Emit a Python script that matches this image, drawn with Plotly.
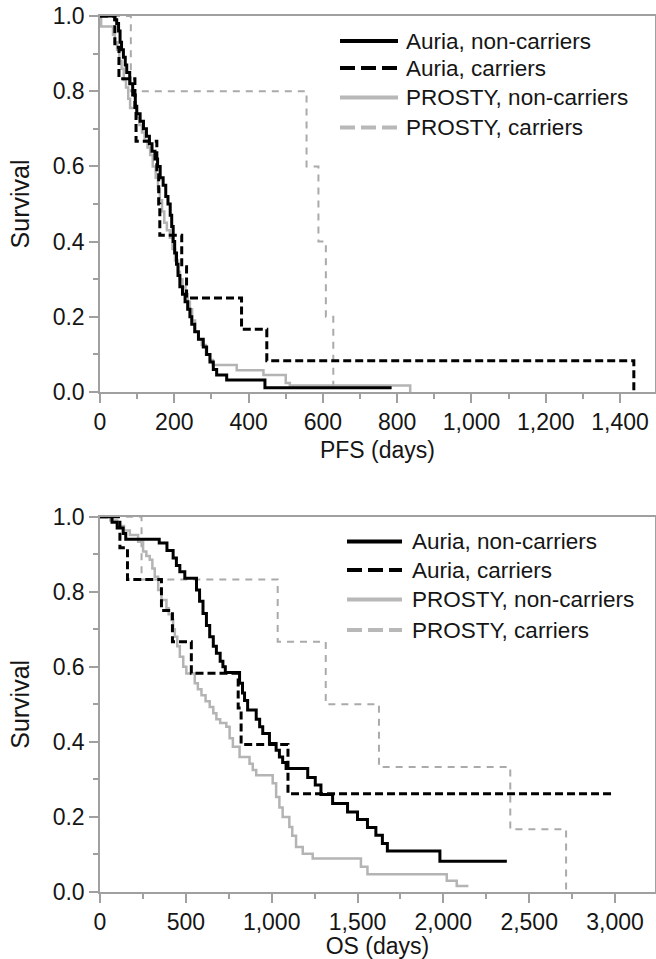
import plotly.graph_objects as go

# ---------------- data: PFS (top panel) ----------------
pfs_auria_nc_t = [0, 40, 45, 50, 54, 58, 63, 68, 72, 80, 88, 95, 99, 108, 117, 125, 133, 140, 148, 155,
                  162, 170, 177, 183, 189, 193, 197, 201, 206, 210, 215, 222, 229, 236, 242, 247, 255, 265,
                  278, 287, 296, 305, 314, 341, 444, 785]
pfs_auria_nc_s = [1.0, 0.99, 0.98, 0.96, 0.93, 0.91, 0.89, 0.87, 0.85, 0.82, 0.79, 0.76, 0.74, 0.72, 0.70,
                  0.68, 0.66, 0.64, 0.62, 0.60, 0.57, 0.55, 0.52, 0.50, 0.47, 0.44, 0.40, 0.37, 0.34, 0.31,
                  0.28, 0.26, 0.24, 0.22, 0.20, 0.18, 0.16, 0.14, 0.12, 0.10, 0.08, 0.06, 0.045, 0.032,
                  0.011, 0.011]

pfs_auria_c_t = [0, 40, 51, 94, 97, 153, 158, 161, 220, 233, 381, 449, 1437]
pfs_auria_c_s = [1.0, 0.917, 0.833, 0.75, 0.667, 0.583, 0.5, 0.417, 0.333, 0.25, 0.167, 0.083, 0.0]

pfs_prosty_nc_t = [0, 3, 35, 40, 46, 52, 58, 64, 70, 76, 81, 99, 106, 113, 120, 128, 135, 142, 150, 156,
                   161, 167, 173, 180, 188, 195, 202, 210, 215, 222, 230, 236, 242, 248, 256, 265, 274,
                   285, 296, 304, 368, 440, 500, 511, 835]
pfs_prosty_nc_s = [1.0, 0.972, 0.95, 0.93, 0.91, 0.88, 0.86, 0.83, 0.81, 0.78, 0.755, 0.73, 0.71, 0.69,
                   0.67, 0.65, 0.63, 0.60, 0.57, 0.54, 0.51, 0.48, 0.45, 0.43, 0.41, 0.38, 0.35, 0.32,
                   0.30, 0.28, 0.26, 0.24, 0.22, 0.19, 0.16, 0.14, 0.125, 0.10, 0.085, 0.072, 0.058,
                   0.045, 0.024, 0.017, 0.0]

pfs_prosty_c_t = [0, 83, 556, 588, 608, 628]
pfs_prosty_c_s = [1.0, 0.8, 0.6, 0.4, 0.2, 0.0]

# ---------------- data: OS (bottom panel) ----------------
os_auria_nc_t = [0, 70, 100, 135, 150, 345, 390, 426, 445, 465, 494, 562, 580, 600, 620, 639, 660, 678,
                 700, 716, 730, 813, 830, 842, 860, 910, 930, 948, 987, 1026, 1045, 1064, 1084, 1210,
                 1254, 1287, 1355, 1442, 1500, 1558, 1607, 1645, 1674, 1980, 2370]
os_auria_nc_s = [1.0, 0.985, 0.97, 0.955, 0.94, 0.93, 0.91, 0.89, 0.87, 0.853, 0.836, 0.805, 0.775,
                 0.742, 0.71, 0.68, 0.655, 0.636, 0.615, 0.60, 0.585, 0.556, 0.53, 0.51, 0.485, 0.46,
                 0.44, 0.422, 0.396, 0.378, 0.36, 0.345, 0.329, 0.305, 0.285, 0.26, 0.236, 0.213,
                 0.193, 0.172, 0.151, 0.129, 0.109, 0.082, 0.082]

os_auria_c_t = [0, 116, 160, 358, 422, 532, 805, 822, 1095, 3000]
os_auria_c_s = [1.0, 0.917, 0.833, 0.75, 0.667, 0.583, 0.49, 0.393, 0.262, 0.262]

os_prosty_nc_t = [0, 60, 100, 140, 174, 222, 251, 270, 290, 305, 319, 339, 358, 387, 400, 416, 426, 436,
                  450, 465, 485, 503, 552, 570, 591, 615, 639, 660, 678, 700, 736, 755, 774, 813, 871,
                  890, 910, 1006, 1026, 1045, 1064, 1103, 1120, 1142, 1181, 1239, 1520, 1558, 2020,
                  2078, 2146]
os_prosty_nc_s = [1.0, 0.99, 0.975, 0.963, 0.951, 0.933, 0.907, 0.895, 0.885, 0.862, 0.84, 0.805, 0.778,
                  0.756, 0.74, 0.725, 0.70, 0.68, 0.655, 0.627, 0.60, 0.582, 0.556, 0.54, 0.524, 0.508,
                  0.493, 0.476, 0.46, 0.45, 0.44, 0.41, 0.387, 0.36, 0.342, 0.325, 0.311, 0.29, 0.253,
                  0.225, 0.20, 0.173, 0.15, 0.12, 0.102, 0.089, 0.067, 0.047, 0.03, 0.016, 0.016]

os_prosty_c_t = [0, 242, 1035, 1315, 1625, 2390, 2715]
os_prosty_c_s = [1.0, 0.833, 0.667, 0.5, 0.333, 0.167, 0.0]

series_names = ["Auria, non-carriers", "Auria, carriers", "PROSTY, non-carriers", "PROSTY, carriers"]

# ---------------- styles ----------------
FONT = "Arial, Liberation Sans, sans-serif"
TXT = "#151515"
styles = [
    dict(color="#000000", width=3, dash="solid"),
    dict(color="#000000", width=3, dash="8px,4px"),
    dict(color="#b4b4b4", width=2.5, dash="solid"),
    dict(color="#aaaaaa", width=2, dash="7px,6px"),
]
legend_styles = [
    dict(color="#000000", width=4, dash="solid"),
    dict(color="#000000", width=4, dash="15px,6px"),
    dict(color="#b8b8b8", width=4, dash="solid"),
    dict(color="#b8b8b8", width=4, dash="15px,6px"),
]

W, H = 656, 959
ML, MR, MT, MB = 100, 1, 16, 67
PW, PH = W - ML - MR, H - MT - MB


def px2paper(x, y):
    return (x - ML) / PW, (H - MB - y) / PH


fig = go.Figure()
top = [(pfs_auria_nc_t, pfs_auria_nc_s), (pfs_auria_c_t, pfs_auria_c_s),
       (pfs_prosty_nc_t, pfs_prosty_nc_s), (pfs_prosty_c_t, pfs_prosty_c_s)]
bot = [(os_auria_nc_t, os_auria_nc_s), (os_auria_c_t, os_auria_c_s),
       (os_prosty_nc_t, os_prosty_nc_s), (os_prosty_c_t, os_prosty_c_s)]

# draw order: gray below black
order = [3, 2, 1, 0]
for i in order:
    t, s = top[i]
    fig.add_trace(go.Scatter(x=t, y=s, mode="lines", line=dict(shape="hv", **styles[i]),
                             name=series_names[i], showlegend=False, xaxis="x", yaxis="y"))
for i in order:
    t, s = bot[i]
    fig.add_trace(go.Scatter(x=t, y=s, mode="lines", line=dict(shape="hv", **styles[i]),
                             name=series_names[i], showlegend=False, xaxis="x2", yaxis="y2"))

# ---------------- manual legends ----------------
shapes, annotations = [], []
legend_specs = [
    dict(x0=340, x1=398, tx=404, rows=[41, 68, 97.5, 127.5]),
    dict(x0=347, x1=402, tx=410, rows=[541.5, 570, 599.5, 630]),
]
for spec in legend_specs:
    for i, ry in enumerate(spec["rows"]):
        ax0, ay = px2paper(spec["x0"], ry)
        ax1, _ = px2paper(spec["x1"], ry)
        shapes.append(dict(type="line", xref="paper", yref="paper", x0=ax0, x1=ax1, y0=ay, y1=ay,
                           line=legend_styles[i]))
        tx, ty = px2paper(spec["tx"], ry)
        annotations.append(dict(xref="paper", yref="paper", x=tx, y=ty, xanchor="left", yanchor="middle",
                                text=series_names[i], showarrow=False,
                                font=dict(family=FONT, size=22.5, color=TXT)))

top_lo = px2paper(0, 392)[1]
bot_hi = px2paper(0, 516.7)[1]

axis_common = dict(showline=True, linecolor="#a0a0a0", linewidth=1.5, mirror=True, showgrid=False,
                   zeroline=False, ticks="outside", ticklen=9, tickwidth=1.5, tickcolor="#a0a0a0",
                   tickfont=dict(family=FONT, size=23, color=TXT), automargin=False)

fig.update_layout(
    width=W, height=H,
    margin=dict(l=ML, r=MR, t=MT, b=MB),
    paper_bgcolor="white", plot_bgcolor="white",
    showlegend=False,
    xaxis=dict(domain=[0, 1], anchor="y", range=[0, 1494], tick0=0, dtick=200, tickformat=",d",
               minor=dict(ticks="outside", ticklen=5, dtick=100, tickcolor="#a0a0a0", tickwidth=1.5),
               title=dict(text="PFS (days)", standoff=8, font=dict(family=FONT, size=23, color=TXT)),
               **axis_common),
    yaxis=dict(domain=[top_lo, 1], anchor="x", range=[0, 1.0], dtick=0.2, tickformat=".1f",
               minor=dict(ticks="outside", ticklen=5, dtick=0.1, tickcolor="#a0a0a0", tickwidth=1.5),
               title=dict(text="Survival", standoff=16, font=dict(family=FONT, size=25, color=TXT)),
               **axis_common),
    xaxis2=dict(domain=[0, 1], anchor="y2", range=[0, 3233], tick0=0, dtick=500, tickformat=",d",
                minor=dict(ticks="outside", ticklen=5, dtick=250, tickcolor="#a0a0a0", tickwidth=1.5),
                title=dict(text="OS (days)", standoff=8, font=dict(family=FONT, size=23, color=TXT)),
                **axis_common),
    yaxis2=dict(domain=[0, bot_hi], anchor="x2", range=[0, 1.0], dtick=0.2, tickformat=".1f",
                minor=dict(ticks="outside", ticklen=5, dtick=0.1, tickcolor="#a0a0a0", tickwidth=1.5),
                title=dict(text="Survival", standoff=16, font=dict(family=FONT, size=25, color=TXT)),
                **axis_common),
    shapes=shapes,
    annotations=annotations,
)

fig.write_html("out.html")
